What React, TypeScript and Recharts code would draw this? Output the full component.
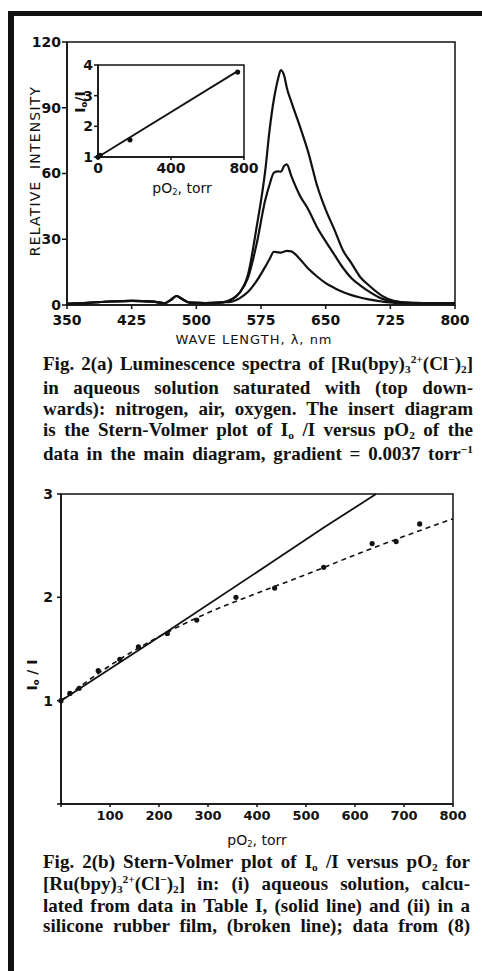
import React from 'react';
import {
  LineChart, Line, XAxis, YAxis, ReferenceArea, ComposedChart, Scatter,
} from 'recharts';

// Fig. 2(a) luminescence spectra
const wavelengths = [350, 375, 400, 425, 450, 463, 470, 477, 484, 492, 510, 530, 540, 550, 560, 570, 580, 585, 590, 595, 598, 602, 605, 610, 620, 630, 640, 650, 660, 670, 680, 690, 700, 715, 730, 750, 775, 800];
const nitrogen = [0.5, 1.0, 1.6, 1.9, 1.5, 0.8, 2.2, 4.1, 2.6, 1.1, 0.9, 1.2, 2.5, 5.5, 14, 35.7, 61.5, 80, 94, 103.5, 107.2, 104.5, 99, 92.9, 81.6, 69.4, 54.5, 43.5, 34.5, 25, 19, 12.8, 9, 4.3, 1.8, 1.0, 0.9, 0.9];
const air = [0.5, 1.0, 1.6, 1.9, 1.5, 0.8, 2.2, 4.1, 2.6, 1.1, 0.9, 1.2, 2.2, 5.5, 12.5, 28, 48, 55, 60.4, 61, 60.8, 63.5, 64.2, 59, 50, 43.5, 35.5, 29, 23, 17, 12.2, 9, 6.2, 2.9, 1.5, 1.0, 0.9, 0.9];
const oxygen = [0.5, 1.0, 1.6, 1.9, 1.5, 0.8, 2.2, 4.1, 2.6, 1.1, 0.9, 1.2, 1.4, 3, 6, 11, 17.5, 21, 24.3, 24, 23.9, 24.4, 24.7, 24.5, 21, 16.5, 13, 10, 7.8, 5.9, 4.5, 3.4, 2.6, 1.6, 1.0, 0.9, 0.9, 0.9];
const wlTicks = [350, 425, 500, 575, 650, 725, 800];
const intensityTicks = [0, 30, 60, 90, 120];

// insert: Stern-Volmer of the spectra
const insetPO2 = [0, 12, 175, 765];
const insetRatio = [1.0, 1.05, 1.56, 3.77];
const insetFitPO2 = [0, 765];
const insetFitRatio = [1.0, 3.8];
const insetXTicks = [0, 400, 800];
const insetYTicks = [1, 2, 3, 4];

// Fig. 2(b)
const aqueousPO2 = [0, 217, 421, 538, 643];
const aqueousRatio = [1.0, 1.67, 2.31, 2.68, 3.0];
const filmFitPO2 = [0, 100, 200, 300, 400, 500, 600, 700, 800];
const filmFitRatio = [1.0, 1.34, 1.62, 1.85, 2.04, 2.22, 2.41, 2.59, 2.76];
const filmPO2 = [0, 18, 37, 76, 120, 158, 217, 277, 357, 436, 536, 635, 684, 732];
const filmRatio = [1.0, 1.07, 1.12, 1.29, 1.4, 1.52, 1.65, 1.78, 2.0, 2.09, 2.29, 2.52, 2.54, 2.71];
const bXTicks = [0, 100, 200, 300, 400, 500, 600, 700, 800];
const bYTicks = [0, 1, 2, 3];

const INK = '#111';
const SANS = '"DejaVu Sans", sans-serif';
const SERIF = '"Liberation Serif", serif';

const spectra = wavelengths.map((nm, i) => ({ nm, nitrogen: nitrogen[i], air: air[i], oxygen: oxygen[i] }));
const pairs = (xs: number[], ys: number[]) => xs.map((x, i) => ({ x, y: ys[i] }));

const Sup = ({ children }: { children: React.ReactNode }) => (
  <span style={{ fontSize: '0.6em', position: 'relative', top: '-0.65em' }}>{children}</span>
);
const Sub = ({ children }: { children: React.ReactNode }) => (
  <span style={{ fontSize: '0.6em', position: 'relative', top: '0.25em' }}>{children}</span>
);

const Dot = (p: any) => <circle cx={p.cx} cy={p.cy} r={2.6} fill={INK} />;

const tickStyle = (size: number) => ({ fontSize: size, fontFamily: SANS, fontWeight: 700, fill: INK });

const line: React.CSSProperties = { textAlign: 'justify', textAlignLast: 'justify', whiteSpace: 'nowrap' };

function abs(left: number, top: number, extra: React.CSSProperties = {}): React.CSSProperties {
  return { position: 'absolute', left, top, ...extra };
}

export default function App() {
  return (
    <div style={{ position: 'absolute', left: 0, top: 0, width: 482, height: 971, background: '#fff', overflow: 'hidden', color: INK }}>
      {/* page frame */}
      <div style={abs(8, 11, { width: 474, height: 5, background: INK })} />
      <div style={abs(8, 11, { width: 6, height: 960, background: INK })} />

      {/* (a) spectra */}
      <div style={abs(0, 0)}>
        <LineChart width={482} height={340} data={spectra} margin={{ top: 42, right: 27, left: 10, bottom: 5 }}>
          <XAxis dataKey="nm" type="number" domain={[350, 800]} ticks={wlTicks} interval={0}
            tick={tickStyle(14)} tickSize={4} tickMargin={6} stroke={INK} strokeWidth={1.5} height={30} />
          <YAxis type="number" domain={[0, 120]} ticks={intensityTicks} interval={0}
            tick={tickStyle(14)} tickSize={5} tickMargin={1} stroke={INK} strokeWidth={1.5} width={57} />
          <ReferenceArea x1={350} x2={800} y1={0} y2={120} fill="none" stroke={INK} strokeWidth={1.5} />
          <Line dataKey="nitrogen" type="monotone" stroke={INK} strokeWidth={2.2} dot={false} isAnimationActive={false} />
          <Line dataKey="air" type="monotone" stroke={INK} strokeWidth={2.2} dot={false} isAnimationActive={false} />
          <Line dataKey="oxygen" type="monotone" stroke={INK} strokeWidth={2.2} dot={false} isAnimationActive={false} />
        </LineChart>
      </div>
      <div style={abs(35, 171, { transform: 'translate(-50%, -50%) rotate(-90deg)', fontFamily: SANS, fontSize: 14, letterSpacing: 1.2, whiteSpace: 'pre' })}>
        RELATIVE  INTENSITY
      </div>
      <div style={abs(254, 339, { transform: 'translate(-50%, -50%)', fontFamily: SANS, fontSize: 13, letterSpacing: 1, whiteSpace: 'nowrap' })}>
        WAVE LENGTH, λ, nm
      </div>

      {/* insert */}
      <div style={abs(40, 40)}>
        <ComposedChart width={230} height={170} margin={{ top: 25, right: 26, left: 18, bottom: 28 }}>
          <XAxis dataKey="x" type="number" domain={[0, 800]} ticks={insetXTicks} interval={0}
            tick={tickStyle(14)} tickSize={3} tickMargin={3} stroke={INK} strokeWidth={1.5} height={25} />
          <YAxis type="number" domain={[1, 4]} ticks={insetYTicks} interval={0}
            tick={tickStyle(14)} tickSize={4} tickMargin={1} stroke={INK} strokeWidth={1.5} width={40} />
          <ReferenceArea x1={0} x2={800} y1={1} y2={4} fill="none" stroke={INK} strokeWidth={1.5} />
          <Line data={pairs(insetFitPO2, insetFitRatio)} dataKey="y" type="linear" stroke={INK} strokeWidth={1.8} dot={false} isAnimationActive={false} />
          <Scatter data={pairs(insetPO2, insetRatio)} dataKey="y" shape={Dot} isAnimationActive={false} />
        </ComposedChart>
      </div>
      <div style={abs(80, 102, { transform: 'translate(-50%, -50%) rotate(-90deg)', fontFamily: SANS, fontSize: 14, fontWeight: 700, whiteSpace: 'nowrap' })}>
        I<Sub>o</Sub>/I
      </div>
      <div style={abs(182, 188, { transform: 'translate(-50%, -50%)', fontFamily: SANS, fontSize: 14, whiteSpace: 'nowrap' })}>
        pO<Sub>2</Sub>, torr
      </div>

      {/* caption (a) */}
      <div style={abs(43, 353, { width: 430, fontFamily: SERIF, fontWeight: 700, fontSize: 19, lineHeight: '21px' })}>
        <div style={line}>Fig. 2(a) Luminescence spectra of [Ru(bpy)<Sub>3</Sub><Sup>2+</Sup>(Cl<Sup>−</Sup>)<Sub>2</Sub>]</div>
        <div style={line}>in aqueous solution saturated with (top down-</div>
        <div style={line}>wards): nitrogen, air, oxygen. The insert diagram</div>
        <div style={line}>is the Stern-Volmer plot of I<Sub>o</Sub> /I versus pO<Sub>2</Sub> of the</div>
        <div style={line}>data in the main diagram, gradient = 0.0037 torr<Sup>−1</Sup></div>
      </div>

      {/* (b) Stern-Volmer */}
      <div style={abs(0, 480)}>
        <ComposedChart width={482} height={360} margin={{ top: 14, right: 29, left: 10, bottom: 6 }}>
          <XAxis dataKey="x" type="number" domain={[0, 800]} ticks={bXTicks} interval={0}
            tickFormatter={(v: number) => (v === 0 ? '' : String(v))}
            tick={tickStyle(13)} tickSize={3} tickMargin={4} stroke={INK} strokeWidth={1.5} height={30} />
          <YAxis type="number" domain={[0, 3]} ticks={bYTicks} interval={0}
            tickFormatter={(v: number) => (v === 0 ? '' : String(v))}
            tick={tickStyle(14)} tickSize={4} tickMargin={4} stroke={INK} strokeWidth={1.5} width={51} />
          <ReferenceArea x1={0} x2={800} y1={0} y2={3} fill="none" stroke={INK} strokeWidth={1.5} />
          <Line data={pairs(aqueousPO2, aqueousRatio)} dataKey="y" type="linear" stroke={INK} strokeWidth={1.8} dot={false} isAnimationActive={false} />
          <Line data={pairs(filmFitPO2, filmFitRatio)} dataKey="y" type="monotone" stroke={INK} strokeWidth={1.6} strokeDasharray="5 4" dot={false} isAnimationActive={false} />
          <Scatter data={pairs(filmPO2, filmRatio)} dataKey="y" shape={Dot} isAnimationActive={false} />
        </ComposedChart>
      </div>
      <div style={abs(32, 675, { transform: 'translate(-50%, -50%) rotate(-90deg)', fontFamily: SANS, fontSize: 14, fontWeight: 700, whiteSpace: 'nowrap' })}>
        I<Sub>o</Sub> / I
      </div>
      <div style={abs(257, 840, { transform: 'translate(-50%, -50%)', fontFamily: SANS, fontSize: 14, whiteSpace: 'nowrap' })}>
        pO<Sub>2</Sub>, torr
      </div>

      {/* caption (b) */}
      <div style={abs(43, 852, { width: 427, fontFamily: SERIF, fontWeight: 700, fontSize: 19, lineHeight: '20px' })}>
        <div style={line}>Fig. 2(b) Stern-Volmer plot of I<Sub>o</Sub> /I versus pO<Sub>2</Sub> for</div>
        <div style={line}>[Ru(bpy)<Sub>3</Sub><Sup>2+</Sup>(Cl<Sup>−</Sup>)<Sub>2</Sub>] in: (i) aqueous solution, calcu-</div>
        <div style={line}>lated from data in Table I, (solid line) and (ii) in a</div>
        <div style={line}>silicone rubber film, (broken line); data from (8)</div>
      </div>
    </div>
  );
}
